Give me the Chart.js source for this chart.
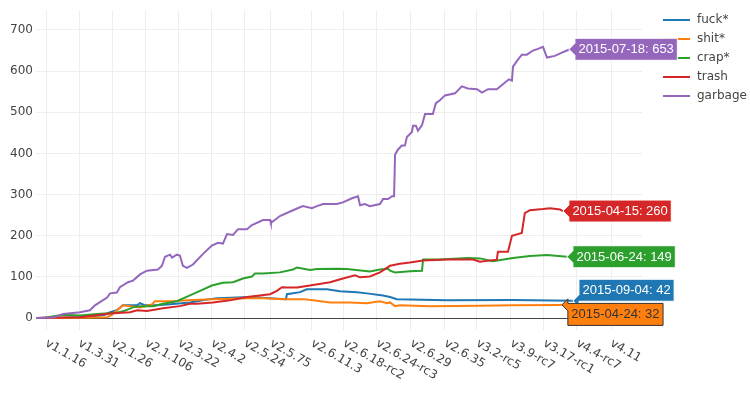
<!DOCTYPE html>
<html>
<head>
<meta charset="utf-8">
<script src="https://cdn.jsdelivr.net/npm/chart.js@4.4.1/dist/chart.umd.min.js"></script>
<style>
  html, body { margin: 0; padding: 0; background: #fff; }
  canvas { display: block; }
</style>
</head>
<body>
<canvas id="myChart" width="750" height="393"></canvas>
<script>
// x axis: kernel versions placed at (approximate) release time, decimal years
const tickYears = [1994.90, 1996.21, 1997.52, 1998.86, 2000.17, 2001.48, 2002.79, 2003.82, 2005.45,
    2006.72, 2008.03, 2009.38, 2010.73, 2012.00, 2013.35, 2014.66, 2015.97, 2017.32];
const tickLabels = ['v1.1.16', 'v1.3.31', 'v2.1.26', 'v2.1.106', 'v2.3.22', 'v2.4.2', 'v2.5.24', 'v2.5.75',
    'v2.6.11.3', 'v2.6.18-rc2', 'v2.6.24-rc3', 'v2.6.29', 'v2.6.35', 'v3.2-rc5', 'v3.9-rc7', 'v3.17-rc1',
    'v4.4-rc7', 'v4.11'];
const yTicks = [0, 100, 200, 300, 400, 500, 600, 700];

const seriesNames = ['fuck*', 'shit*', 'crap*', 'trash', 'garbage'];
const seriesColors = ['#1f77b4', '#ff7f0e', '#2ca02c', '#d62728', '#9467bd'];
const lastDates = ['2015-09-04', '2015-04-24', '2015-06-24', '2015-04-15', '2015-07-18'];

const fuckYears = [1994.50, 1995.45, 1996.64, 1997.24, 1997.44, 1997.71, 1997.95, 1998.51, 1998.63, 1998.83,
    1999.30, 1999.94, 2000.61, 2001.40, 2001.68, 2002.99, 2003.79, 2004.42, 2004.46, 2004.98, 2005.25,
    2006.05, 2006.56, 2007.24, 2007.63, 2008.27, 2008.55, 2008.82, 2010.81, 2013.43, 2015.81];
const fuckCounts = [0, 1, 3, 8, 14, 19, 31, 31, 36, 31, 31, 34, 38, 46, 48, 51, 48, 46, 58, 63, 70, 70, 65, 63,
    60, 55, 51, 46, 43, 44, 42];

const shitYears = [1994.50, 1996.25, 1997.32, 1997.52, 1997.71, 1997.95, 1998.23, 1998.63, 1999.10, 1999.22,
    1999.94, 2000.49, 2001.52, 2002.87, 2003.51, 2004.30, 2005.09, 2005.49, 2006.17, 2006.96, 2007.63,
    2008.15, 2008.43, 2008.55, 2008.75, 2008.94, 2010.13, 2012.12, 2013.43, 2015.37];
const shitCounts = [0, 1, 2, 8, 19, 31, 29, 26, 33, 41, 41, 43, 46, 48, 48, 46, 46, 43, 38, 38, 36, 41, 36, 38,
    29, 31, 29, 30, 31, 32];

const crapYears = [1994.50, 1994.78, 1995.57, 1996.25, 1996.92, 1997.71, 1998.03, 1998.35, 1998.63, 1999.14,
    1999.54, 2000.09, 2000.61, 2001.01, 2001.48, 2001.92, 2002.32, 2002.71, 2003.07, 2003.19, 2003.51,
    2004.18, 2004.70, 2004.86, 2005.37, 2005.65, 2006.44, 2006.84, 2007.48, 2007.75, 2008.15, 2008.47,
    2008.55, 2008.75, 2009.34, 2009.82, 2009.86, 2010.53, 2011.64, 2012.12, 2012.63, 2013.43, 2014.10,
    2014.78, 2015.57];
const crapCounts = [0, 0, 8, 6, 10, 13, 18, 26, 29, 29, 35, 41, 55, 66, 79, 86, 87, 96, 101, 108, 108, 111,
    118, 123, 117, 119, 120, 119, 115, 113, 118, 120, 115, 111, 114, 115, 142, 142, 146, 145, 138, 146,
    151, 153, 149];

const trashYears = [1994.50, 1996.25, 1997.44, 1998.23, 1998.51, 1998.90, 1999.54, 2000.21, 2000.61, 2000.89,
    2001.52, 2002.20, 2002.87, 2003.79, 2004.06, 2004.26, 2004.46, 2004.86, 2005.37, 2006.17, 2006.68,
    2007.16, 2007.36, 2007.75, 2008.15, 2008.55, 2008.94, 2009.34, 2009.86, 2010.81, 2011.84, 2012.12,
    2012.79, 2012.83, 2013.23, 2013.39, 2013.78, 2013.90, 2014.10, 2014.62, 2014.90, 2015.30, 2015.41];
const trashCounts = [0, 2, 11, 14, 19, 17, 24, 29, 35, 35, 38, 43, 51, 58, 66, 75, 74, 74, 79, 87, 96, 104,
    99, 101, 111, 127, 132, 135, 140, 142, 142, 137, 142, 161, 161, 200, 207, 255, 262, 265, 267, 264, 260];

const garbageYears = [1994.50, 1995.25, 1995.45, 1995.57, 1996.25, 1996.64, 1996.84, 1997.32, 1997.44, 1997.71,
    1997.83, 1998.15, 1998.35, 1998.63, 1998.90, 1999.34, 1999.50, 1999.62, 1999.82, 1999.90,
    2000.09, 2000.21, 2000.33, 2000.49, 2000.73, 2001.13, 2001.48, 2001.72, 2001.92, 2002.08,
    2002.32, 2002.52, 2002.87, 2003.07, 2003.51, 2003.79, 2003.82, 2004.18, 2004.70, 2005.09,
    2005.45, 2005.65, 2005.89, 2006.44, 2006.68, 2007.04, 2007.28, 2007.36, 2007.55, 2007.75,
    2008.15, 2008.27, 2008.47, 2008.63, 2008.71, 2008.75, 2008.86, 2009.02, 2009.14, 2009.22,
    2009.42, 2009.46, 2009.58, 2009.66, 2009.82, 2009.94, 2010.25, 2010.37, 2010.53, 2010.73,
    2011.13, 2011.40, 2011.64, 2012.00, 2012.20, 2012.44, 2012.79, 2013.03, 2013.27, 2013.39,
    2013.43, 2013.59, 2013.78, 2013.98, 2014.22, 2014.42, 2014.62, 2014.78, 2015.09, 2015.37,
    2015.57, 2015.65];
const garbageCounts = [0, 2, 7, 10, 14, 19, 31, 50, 60, 62,
    75, 87, 91, 106, 115, 118, 127, 149, 154, 147,
    154, 152, 127, 122, 130, 156, 176, 183, 181, 204,
    202, 216, 216, 226, 238, 238, 231, 248, 262, 272,
    267, 272, 277, 277, 281, 291, 296, 274, 277, 272,
    277, 289, 289, 296, 296, 397, 409, 419, 419, 440,
    452, 467, 467, 455, 469, 496, 496, 522, 529, 541,
    546, 563, 558, 556, 548, 556, 556, 568, 580, 577,
    611, 625, 640, 640, 650, 654, 659, 633, 637, 645,
    650, 653];

const allYears = [fuckYears, shitYears, crapYears, trashYears, garbageYears];
const allCounts = [fuckCounts, shitCounts, crapCounts, trashCounts, garbageCounts];

const datasets = seriesNames.map((name, i) => ({
    label: name,
    data: allYears[i].map((x, j) => ({ x: x, y: allCounts[i][j] })),
    borderColor: seriesColors[i],
    backgroundColor: seriesColors[i],
    borderWidth: 2,
    pointRadius: 0,
    tension: 0,
    order: seriesNames.length - i
}));

// label box extent (above/below the arrow tip) so the low ones don't collide
const boxSpan = [[-21.5, 0.5], [-1.5, 20.5], [-11, 11], [-11, 11], [-11, 11]];

const overlay = {
    id: 'overlay',
    afterDraw(chart) {
        const ctx = chart.ctx;
        const xs = chart.scales.x;
        ctx.save();

        // rotated version labels
        ctx.font = '12px "DejaVu Sans"';
        ctx.fillStyle = '#444';
        ctx.textAlign = 'left';
        ctx.textBaseline = 'middle';
        tickLabels.forEach((lab, i) => {
            const px = xs.getPixelForValue(tickYears[i]);
            ctx.save();
            ctx.translate(px, 342.5);
            ctx.rotate(Math.PI / 6);
            ctx.fillText(lab, 0, 0);
            ctx.restore();
        });

        // legend
        seriesNames.forEach((name, i) => {
            const y = 20 + i * 19;
            ctx.strokeStyle = seriesColors[i];
            ctx.lineWidth = 2;
            ctx.beginPath();
            ctx.moveTo(663, y);
            ctx.lineTo(690, y);
            ctx.stroke();
            ctx.fillStyle = '#444';
            ctx.fillText(name, 697, y);
        });

        // end-of-line labels
        ctx.font = '13px "Liberation Sans"';
        ctx.lineWidth = 1;
        seriesNames.forEach((name, i) => {
            const meta = chart.getDatasetMeta(i);
            const pt = meta.data[meta.data.length - 1];
            const tx = pt.x, ty = pt.y;
            const counts = allCounts[i];
            const text = lastDates[i] + ': ' + counts[counts.length - 1];
            const w = ctx.measureText(text).width + 7;
            const t = boxSpan[i][0], b = boxSpan[i][1];
            const fg = i === 1 ? '#333' : '#fff';
            ctx.beginPath();
            ctx.moveTo(tx, ty);
            ctx.lineTo(tx + 6, ty + 6);
            ctx.lineTo(tx + 6, ty + b);
            ctx.lineTo(tx + 6 + w, ty + b);
            ctx.lineTo(tx + 6 + w, ty + t);
            ctx.lineTo(tx + 6, ty + t);
            ctx.lineTo(tx + 6, ty - 6);
            ctx.closePath();
            ctx.fillStyle = seriesColors[i];
            ctx.fill();
            ctx.strokeStyle = fg;
            ctx.stroke();
            ctx.fillStyle = fg;
            ctx.textAlign = 'left';
            ctx.textBaseline = 'middle';
            ctx.fillText(text, tx + 9.5, ty + (t + b) / 2 + 0.5);
        });
        ctx.restore();
    }
};

const myChart = document.getElementById('myChart').getContext('2d');
const chart = new Chart(myChart, {
    type: 'line',
    data: { datasets: datasets },
    options: {
        responsive: false,
        animation: false,
        layout: { padding: { top: 7, right: 108, left: 0, bottom: 0 } },
        plugins: {
            legend: { display: false },
            tooltip: { enabled: false }
        },
        scales: {
            x: {
                type: 'linear',
                min: 1994.5,
                max: 2018.55,
                afterBuildTicks: s => { s.ticks = tickYears.map(v => ({ value: v })); },
                afterFit: s => { s.height = 63; },
                ticks: { display: false },
                grid: { color: '#eee', drawTicks: false },
                border: { display: false }
            },
            y: {
                min: -29,
                max: 748,
                afterBuildTicks: s => { s.ticks = yTicks.map(v => ({ value: v })); },
                afterFit: s => { s.width = 36; },
                ticks: {
                    padding: 3,
                    color: '#444',
                    font: { family: 'DejaVu Sans', size: 12 }
                },
                grid: {
                    color: c => (c.tick && c.tick.value === 0 ? '#444' : '#eee'),
                    drawTicks: false
                },
                border: { display: false }
            }
        }
    },
    plugins: [overlay]
});
</script>
</body>
</html>
